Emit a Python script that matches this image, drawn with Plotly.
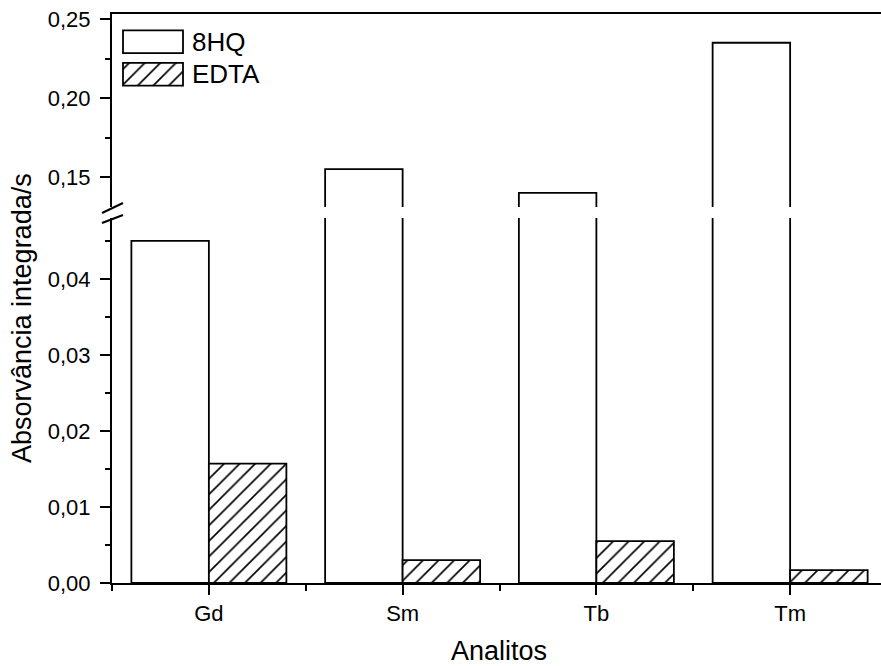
import plotly.graph_objects as go

# Data
analitos = ["Gd", "Sm", "Tb", "Tm"]
hq8 = [0.045, 0.155, 0.140, 0.235]
edta = [0.0157, 0.0030, 0.0055, 0.0017]
series_names = ["8HQ", "EDTA"]
lower_ticks = [0.00, 0.01, 0.02, 0.03, 0.04]
upper_ticks = [0.15, 0.20, 0.25]

FONT = "Liberation Sans, Arial, sans-serif"
W, H = 881, 666
L, R, T, B = 112, 0, 14, 83
PW, PH = W - L - R, H - T - B

def px_x(px):
    return (px - L) / PW

def px_y(py):
    return (H - B - py) / PH

xpos = list(range(len(analitos)))
line = dict(color="black", width=1.8)
hatch = dict(shape="/", size=11, solidity=0.15, fgcolor="black", fgopacity=1,
             bgcolor="white")
plain = dict(shape="", fgcolor="white", bgcolor="white")

fig = go.Figure()
for xa, ya in (("x", "y"), ("x2", "y2")):
    fig.add_trace(go.Bar(x=xpos, y=hq8, name=series_names[0], xaxis=xa, yaxis=ya,
                         marker=dict(color="white", line=line, pattern=plain),
                         showlegend=False))
    fig.add_trace(go.Bar(x=xpos, y=edta, name=series_names[1], xaxis=xa, yaxis=ya,
                         marker=dict(color="white", line=line, pattern=hatch),
                         showlegend=False))

# legend swatches drawn on a small hidden subplot so they share the bar patterns
fig.add_trace(go.Bar(x=[1, 1], y=[1, 0], orientation="h", width=0.7,
                     xaxis="x3", yaxis="y3", showlegend=False, hoverinfo="skip",
                     marker=dict(color="white", line=line,
                                 pattern=dict(shape=["", "/"], size=11, solidity=0.15,
                                              fgcolor="black", fgopacity=1,
                                              bgcolor="white"))))

tickfont = dict(family=FONT, size=22, color="black")
lower_top, upper_bottom = 218, 207

axis_common = dict(showline=True, linecolor="black", linewidth=2, ticks="outside",
                   tickcolor="black", tickwidth=2, showgrid=False, zeroline=False,
                   tickfont=tickfont, automargin=False)

fig.update_layout(
    width=W, height=H,
    margin=dict(l=L, r=R, t=T, b=B),
    paper_bgcolor="white", plot_bgcolor="white",
    separators=",.",
    barmode="group", bargap=0.2, bargroupgap=0,
    xaxis=dict(**axis_common, range=[-0.5, 3.469], tickvals=xpos, ticktext=analitos,
               ticklen=10, anchor="y",
               minor=dict(ticks="outside", tick0=0.5, dtick=1, ticklen=6,
                          tickcolor="black", tickwidth=2)),
    xaxis2=dict(matches="x", anchor="y2", side="top", showline=True, linecolor="black",
                linewidth=2, ticks="", showticklabels=False, showgrid=False,
                zeroline=False, automargin=False),
    yaxis=dict(**axis_common, domain=[0, px_y(lower_top)], range=[0, 0.048],
               tickvals=lower_ticks, tickformat=".2f", ticklen=10, anchor="x",
               ticklabelstandoff=5,
               minor=dict(ticks="outside", tick0=0.005, dtick=0.01, ticklen=5,
                          tickcolor="black", tickwidth=2)),
    yaxis2=dict(**axis_common, domain=[px_y(upper_bottom), 1], range=[0.131, 0.2532],
                tickvals=upper_ticks, tickformat=".2f", ticklen=10, anchor="x2",
                ticklabelstandoff=5,
                minor=dict(ticks="outside", tick0=0.175, dtick=0.05, ticklen=5,
                           tickcolor="black", tickwidth=2)),
    xaxis3=dict(domain=[px_x(120), px_x(186)], range=[-0.05, 1.05], anchor="y3",
                visible=False, fixedrange=True),
    yaxis3=dict(domain=[px_y(90.5), px_y(25.5)], range=[-0.5, 1.5], anchor="x3",
                visible=False, fixedrange=True),
)

# axis break marks
for y0, y1 in ((213, 203), (223, 215)):
    fig.add_shape(type="line", xref="paper", yref="paper",
                  x0=px_x(102), y0=px_y(y0), x1=px_x(123), y1=px_y(y1),
                  line=dict(color="black", width=2))

# legend labels
for name, cy in zip(series_names, (41.5, 74.5)):
    fig.add_annotation(text=name, xref="paper", yref="paper", x=px_x(190), y=px_y(cy),
                       xanchor="left", yanchor="middle", showarrow=False,
                       font=dict(family=FONT, size=26, color="black"))

# axis titles
fig.add_annotation(text="Analitos", xref="paper", yref="paper",
                   x=px_x(499), y=px_y(651), showarrow=False,
                   xanchor="center", yanchor="middle",
                   font=dict(family=FONT, size=27, color="black"))
fig.add_annotation(text="Absorvância integrada/s", xref="paper", yref="paper",
                   x=px_x(22), y=px_y(318), textangle=-90, showarrow=False,
                   xanchor="center", yanchor="middle",
                   font=dict(family=FONT, size=27, color="black"))

fig.write_html("out.html")
